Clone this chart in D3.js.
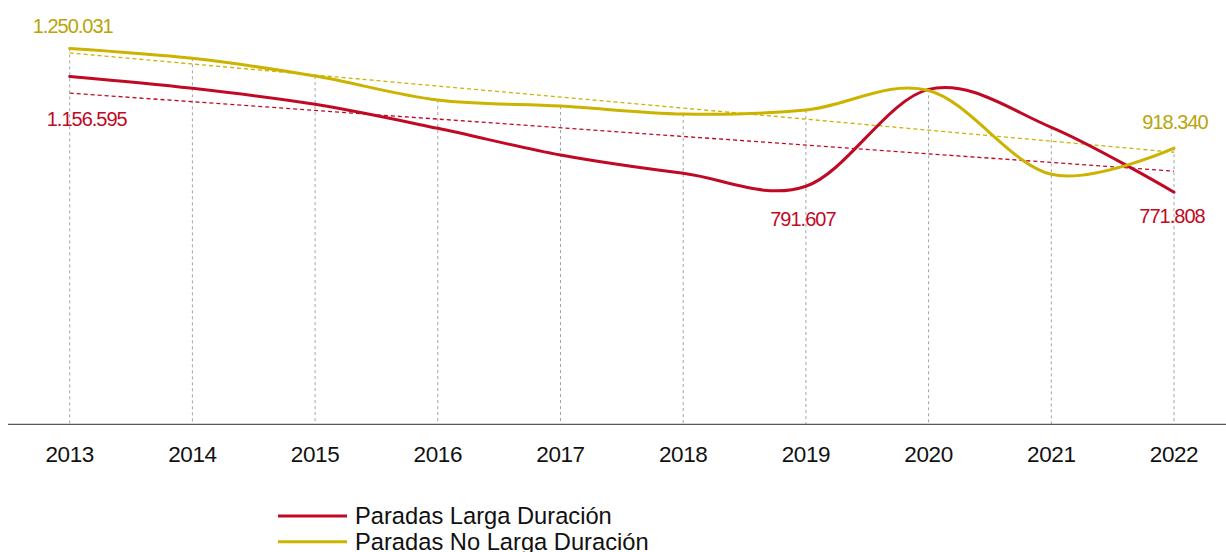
<!DOCTYPE html>
<html>
<head>
<meta charset="utf-8">
<script src="https://cdn.jsdelivr.net/npm/d3@7"></script>
<style>
  html, body { margin: 0; padding: 0; background: #fff; }
  svg { display: block; font-family: "Liberation Sans", Arial, sans-serif; }
</style>
</head>
<body>
<svg id="chart" width="1226" height="552"></svg>
<script>
// Years on the category axis
const years = ["2013", "2014", "2015", "2016", "2017", "2018", "2019", "2020", "2021", "2022"];

// Number of long-duration stops per year
const paradasLarga = [1156595, 1117200, 1064000, 984200, 895400, 834600, 791607, 1113900, 987500, 771808];

// Number of non-long-duration stops per year
const paradasNoLarga = [1250031, 1216950, 1158100, 1078300, 1058300, 1031700, 1045000, 1110000, 831250, 918340];

const seriesNames = ["Paradas Larga Duración", "Paradas No Larga Duración"];
const seriesColors = ["#c00a25", "#cbb300"];
const labelColors = ["#c00a25", "#b9a40a"];

// Which points carry a value label, and where the label sits relative to the point
const labelled = [
  { series: 1, year: "2013", dx: 3,  dy: -15 },
  { series: 0, year: "2013", dx: 17, dy: 50 },
  { series: 0, year: "2019", dx: -3, dy: 40 },
  { series: 0, year: "2022", dx: -2, dy: 31 },
  { series: 1, year: "2022", dx: 1,  dy: -19 }
];

const svg = d3.select("#chart");
const W = 1226;

const x = d3.scalePoint().domain(years).range([69.7, 1174]);
const y = d3.scaleLinear().domain([0, 1400000]).range([424.3, 3.3]);

const fmt = v => d3.format(",")(v).replace(/,/g, ".");

const series = [paradasLarga, paradasNoLarga].map((vals, i) => ({
  name: seriesNames[i],
  color: seriesColors[i],
  labelColor: labelColors[i],
  points: years.map((yr, j) => ({ year: yr, value: vals[j] }))
}));

// Drop lines from the higher of the two points down to the axis
svg.append("g")
  .selectAll("line")
  .data(years)
  .join("line")
  .attr("x1", d => x(d)).attr("x2", d => x(d))
  .attr("y1", (d, j) => y(Math.max(paradasLarga[j], paradasNoLarga[j])))
  .attr("y2", y(0))
  .attr("stroke", "#a3a3a3")
  .attr("stroke-width", 1)
  .attr("stroke-dasharray", "3,3");

// Category axis line
svg.append("line")
  .attr("x1", 8).attr("x2", W)
  .attr("y1", y(0)).attr("y2", y(0))
  .attr("stroke", "#595959")
  .attr("stroke-width", 1.3);

// Year labels
svg.append("g")
  .selectAll("text")
  .data(years)
  .join("text")
  .attr("x", d => x(d))
  .attr("y", 462)
  .attr("text-anchor", "middle")
  .attr("font-size", 22.5)
  .attr("letter-spacing", "-0.4px")
  .attr("fill", "#111")
  .text(d => d);

// Linear trend lines (least squares over year index)
series.forEach(s => {
  const n = s.points.length;
  const xs = d3.range(n);
  const mx = d3.mean(xs);
  const my = d3.mean(s.points, p => p.value);
  const sxy = d3.sum(xs, i => (i - mx) * (s.points[i].value - my));
  const sxx = d3.sum(xs, i => (i - mx) * (i - mx));
  const slope = sxy / sxx;
  const at = i => my + slope * (i - mx);
  svg.append("line")
    .attr("x1", x(years[0])).attr("x2", x(years[n - 1]))
    .attr("y1", y(at(0))).attr("y2", y(at(n - 1)))
    .attr("stroke", s.color)
    .attr("stroke-width", 1.3)
    .attr("stroke-dasharray", "4,3");
});

// Smoothed series lines
const line = d3.line()
  .x(d => x(d.year))
  .y(d => y(d.value))
  .curve(d3.curveCardinal.tension(0));

svg.append("g")
  .selectAll("path")
  .data(series)
  .join("path")
  .attr("d", d => line(d.points))
  .attr("fill", "none")
  .attr("stroke", d => d.color)
  .attr("stroke-width", 3)
  .attr("stroke-linejoin", "round")
  .attr("stroke-linecap", "round");

// Value labels
svg.append("g")
  .selectAll("text")
  .data(labelled)
  .join("text")
  .attr("x", d => x(d.year) + d.dx)
  .attr("y", d => y(series[d.series].points[years.indexOf(d.year)].value) + d.dy)
  .attr("text-anchor", "middle")
  .attr("font-size", 20)
  .attr("letter-spacing", "-1px")
  .attr("fill", d => series[d.series].labelColor)
  .text(d => fmt(series[d.series].points[years.indexOf(d.year)].value));

// Legend
const legend = svg.append("g");
series.forEach((s, i) => {
  const ly = 516 + i * 25.7;
  legend.append("line")
    .attr("x1", 278).attr("x2", 347)
    .attr("y1", ly).attr("y2", ly)
    .attr("stroke", s.color)
    .attr("stroke-width", 3);
  legend.append("text")
    .attr("x", 355)
    .attr("y", ly + 8)
    .attr("font-size", 23.7)
    .attr("fill", "#111")
    .text(s.name);
});
</script>
</body>
</html>
